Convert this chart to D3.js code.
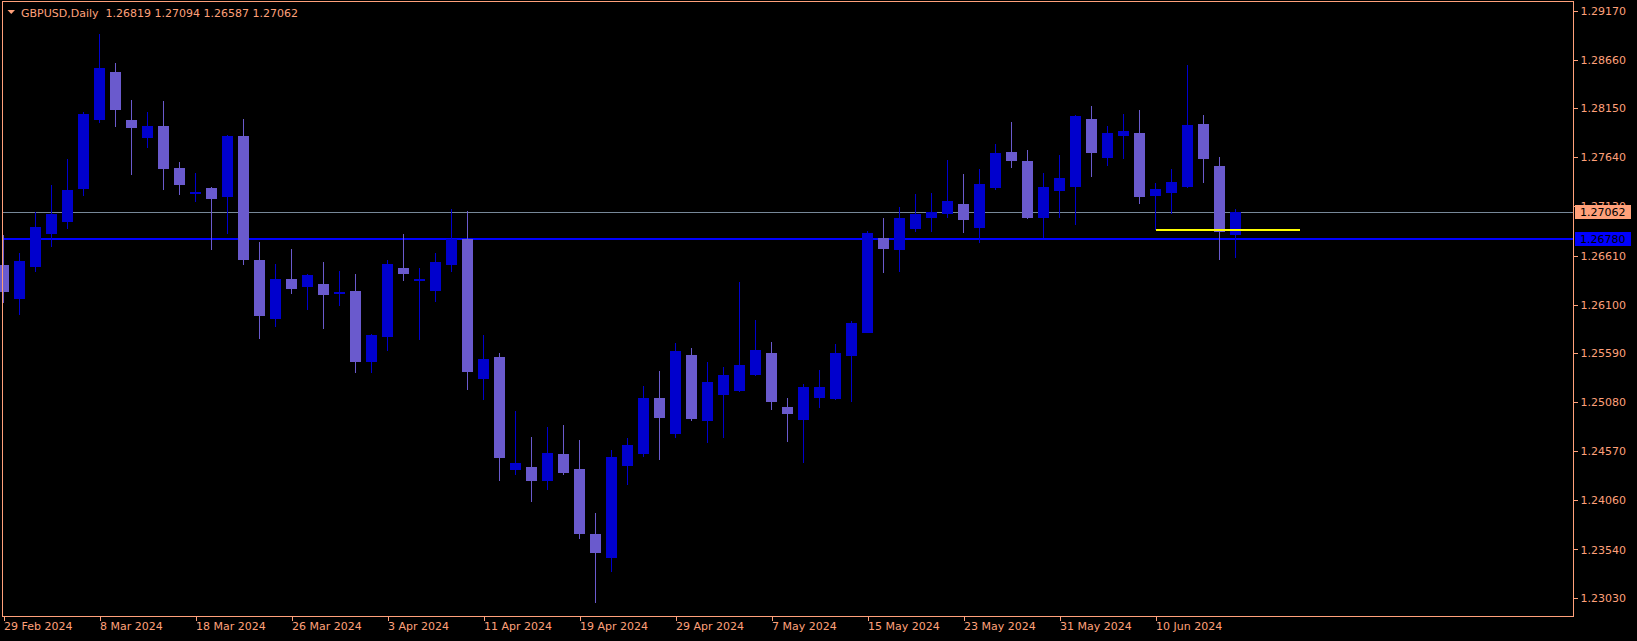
<!DOCTYPE html>
<html><head><meta charset="utf-8">
<script src="https://cdn.jsdelivr.net/npm/d3@7"></script>
<style>
html,body{margin:0;padding:0;background:#000;overflow:hidden;}
svg{display:block;}
text{font-family:"DejaVu Sans",sans-serif;font-size:11px;}
</style></head>
<body>
<svg id="chart" width="1637" height="641"></svg>
<script>
const dates = ["29 Feb","1 Mar","4 Mar","5 Mar","6 Mar","7 Mar","8 Mar","11 Mar","12 Mar","13 Mar","14 Mar","15 Mar","18 Mar","19 Mar","20 Mar","21 Mar","22 Mar","25 Mar","26 Mar","27 Mar","28 Mar","29 Mar","1 Apr","2 Apr","3 Apr","4 Apr","5 Apr","8 Apr","9 Apr","10 Apr","11 Apr","12 Apr","15 Apr","16 Apr","17 Apr","18 Apr","19 Apr","22 Apr","23 Apr","24 Apr","25 Apr","26 Apr","29 Apr","30 Apr","1 May","2 May","3 May","6 May","7 May","8 May","9 May","10 May","13 May","14 May","15 May","16 May","17 May","20 May","21 May","22 May","23 May","24 May","27 May","28 May","29 May","30 May","31 May","3 Jun","4 Jun","5 Jun","6 Jun","7 Jun","10 Jun","11 Jun","12 Jun","13 Jun","14 Jun","17 Jun"];
const opens = [1.2651,1.2615,1.2649,1.2684,1.2697,1.2731,1.2803,1.2853,1.2803,1.2784,1.2797,1.2753,1.2727,1.2732,1.2722,1.2786,1.2656,1.2595,1.2637,1.2628,1.2631,1.2622,1.2624,1.2550,1.2576,1.2648,1.2636,1.2624,1.2651,1.2678,1.2532,1.2555,1.2437,1.2440,1.2426,1.2454,1.2438,1.2370,1.2345,1.2441,1.2454,1.2512,1.2474,1.2557,1.2488,1.2515,1.2520,1.2536,1.2559,1.2503,1.2490,1.2513,1.2511,1.2557,1.2581,1.2680,1.2667,1.2689,1.2701,1.2704,1.2715,1.2690,1.2731,1.2769,1.2760,1.2701,1.2728,1.2733,1.2804,1.2763,1.2786,1.2789,1.2724,1.2727,1.2733,1.2799,1.2755,1.26819];
const highs = [1.2683,1.2664,1.2707,1.2735,1.2762,1.2811,1.2893,1.2862,1.2824,1.2811,1.2823,1.2759,1.2747,1.2733,1.2787,1.2804,1.2675,1.2652,1.2668,1.2642,1.2654,1.2645,1.2642,1.2579,1.2656,1.2684,1.2648,1.2664,1.2710,1.2708,1.2578,1.2559,1.2499,1.2472,1.2482,1.2484,1.2468,1.2392,1.2458,1.2470,1.2525,1.2541,1.2570,1.2565,1.2550,1.2545,1.2634,1.2594,1.2571,1.2512,1.2527,1.2542,1.2569,1.2593,1.2687,1.2700,1.2712,1.2725,1.2726,1.2761,1.2746,1.2752,1.2778,1.2801,1.2771,1.2747,1.2766,1.2808,1.2817,1.2796,1.2809,1.2813,1.2737,1.2752,1.2860,1.2808,1.2764,1.27094];
const lows = [1.2612,1.2599,1.2644,1.2670,1.2689,1.2723,1.2800,1.2795,1.2745,1.2774,1.2730,1.2724,1.2717,1.2667,1.2684,1.2651,1.2574,1.2587,1.2621,1.2604,1.2584,1.2608,1.2538,1.2538,1.2561,1.2635,1.2573,1.2613,1.2644,1.2521,1.2510,1.2426,1.2432,1.2404,1.2416,1.2432,1.2365,1.2298,1.2330,1.2421,1.2451,1.2448,1.2470,1.2488,1.2465,1.2471,1.2519,1.2535,1.2500,1.2466,1.2444,1.2502,1.2510,1.2508,1.2580,1.2643,1.2644,1.2686,1.2686,1.2700,1.2685,1.2674,1.2730,1.2753,1.2699,1.2680,1.2700,1.2693,1.2743,1.2755,1.2762,1.2715,1.2688,1.2705,1.2732,1.2737,1.2656,1.26587];
const closes = [1.2623,1.2655,1.2691,1.2705,1.2730,1.2809,1.2857,1.2813,1.2795,1.2797,1.2752,1.2735,1.2728,1.2720,1.2786,1.2656,1.2598,1.2637,1.2627,1.2641,1.2620,1.2623,1.2550,1.2578,1.2652,1.2642,1.2637,1.2654,1.2678,1.2539,1.2553,1.2449,1.2444,1.2425,1.2455,1.2434,1.2370,1.2350,1.2451,1.2463,1.2512,1.2491,1.2561,1.2490,1.2529,1.2536,1.2547,1.2562,1.2508,1.2496,1.2524,1.2524,1.2559,1.2591,1.2685,1.2669,1.2700,1.2705,1.2707,1.2718,1.2698,1.2736,1.2768,1.2760,1.2700,1.2733,1.2742,1.2807,1.2768,1.2789,1.2791,1.2722,1.2731,1.2738,1.2798,1.2762,1.2686,1.27062];
const xTickIndex = [0,6,12,18,24,30,36,42,48,54,60,66,72];
const xTickLabels = ["29 Feb 2024","8 Mar 2024","18 Mar 2024","26 Mar 2024","3 Apr 2024","11 Apr 2024","19 Apr 2024","29 Apr 2024","7 May 2024","15 May 2024","23 May 2024","31 May 2024","10 Jun 2024"];
const yTicks = [1.29170,1.28660,1.28150,1.27640,1.27130,1.26610,1.26100,1.25590,1.25080,1.24570,1.24060,1.23540,1.23030];
const titleText = "GBPUSD,Daily  1.26819 1.27094 1.26587 1.27062";
const bidPrice = 1.27062;
const levelPrice = 1.26780;
const trendPrice = 1.26882;
const trendFrom = 72, trendTo = 81;

const FG = "#FFA07A", BULL = "#0000CD", BEAR = "#6A5ACD";
const L = 2.5, T = 1.5, R = 1573.5, B = 616.5;

const svg = d3.select("#chart");
svg.append("rect").attr("width",1637).attr("height",641).attr("fill","#000");

const x = d3.scaleLinear().domain([0, 77]).range([3.5, 3.5 + 16*77]);
const y = d3.scaleLinear().domain([1.23030, 1.29170]).range([598.3, 10.7]);

const bars = dates.map((d,i)=>({i, o:opens[i], h:highs[i], l:lows[i], c:closes[i]}));

const g = svg.append("g").attr("shape-rendering","crispEdges");

// level lines
g.append("line").attr("x1",L).attr("x2",R).attr("y1",Math.round(y(bidPrice))+0.5).attr("y2",Math.round(y(bidPrice))+0.5)
  .attr("stroke","#778899").attr("stroke-width",1);
g.append("line").attr("x1",L).attr("x2",R).attr("y1",Math.round(y(levelPrice))).attr("y2",Math.round(y(levelPrice)))
  .attr("stroke","#0000FF").attr("stroke-width",2);

// wicks
g.selectAll(".wick").data(bars).join("line").attr("class","wick")
  .attr("x1",d=>x(d.i)).attr("x2",d=>x(d.i))
  .attr("y1",d=>Math.round(y(d.h))).attr("y2",d=>Math.round(y(d.l)))
  .attr("stroke",d=>d.c>=d.o?BULL:BEAR).attr("stroke-width",1);

// bodies
g.selectAll(".body").data(bars).join("rect").attr("class","body")
  .attr("x",d=>x(d.i)-5.5).attr("width",11)
  .attr("y",d=>Math.round(Math.min(y(d.o),y(d.c))))
  .attr("height",d=>Math.max(2,Math.round(Math.abs(y(d.o)-y(d.c)))))
  .attr("fill",d=>d.c>=d.o?BULL:BEAR);

// yellow trend line
g.append("line").attr("x1",x(trendFrom)).attr("x2",x(trendTo))
  .attr("y1",Math.round(y(trendPrice))).attr("y2",Math.round(y(trendPrice)))
  .attr("stroke","#FFFF00").attr("stroke-width",2);

// frame
svg.append("rect").attr("x",L).attr("y",T).attr("width",R-L).attr("height",B-T)
  .attr("fill","none").attr("stroke",FG).attr("stroke-width",1).attr("shape-rendering","crispEdges");

// right axis
const yAxis = d3.axisRight(y).tickValues(yTicks).tickSize(4).tickPadding(3).tickFormat(d3.format(".5f"));
const ya = svg.append("g").attr("transform",`translate(${R},0)`).call(yAxis);
ya.select(".domain").remove();
ya.selectAll(".tick line").attr("stroke",FG).attr("shape-rendering","crispEdges");
ya.selectAll(".tick text").attr("fill",FG).style("font-family","DejaVu Sans").style("font-size","11px");

// bottom axis
const xAxis = d3.axisBottom(x).tickValues(xTickIndex).tickSize(4).tickFormat((d,k)=>xTickLabels[k]);
const xa = svg.append("g").attr("transform",`translate(0,${B})`).call(xAxis);
xa.select(".domain").remove();
xa.selectAll(".tick line").attr("stroke",FG).attr("shape-rendering","crispEdges");
xa.selectAll(".tick text").attr("fill",FG).attr("text-anchor","start").attr("x",0).attr("y",6)
  .style("font-family","DejaVu Sans").style("font-size","11px");

// price label boxes
function priceBox(p, bg){
  const cy = y(p);
  svg.append("rect").attr("x",1575).attr("y",Math.round(cy-7)).attr("width",56).attr("height",14).attr("fill",bg);
  svg.append("text").attr("x",1580).attr("y",cy).attr("dy","0.36em").attr("fill","#000")
    .style("font-size","11px").text(d3.format(".5f")(p));
}
priceBox(bidPrice, FG);
priceBox(levelPrice, "#0000FF");

// title
svg.append("path").attr("d","M7.5,10 L15,10 L11.25,14 Z").attr("fill",FG);
svg.append("text").attr("x",21).attr("y",13).attr("dy","0.35em").attr("fill",FG)
  .style("white-space","pre").attr("xml:space","preserve").text(titleText);
</script>
</body></html>
